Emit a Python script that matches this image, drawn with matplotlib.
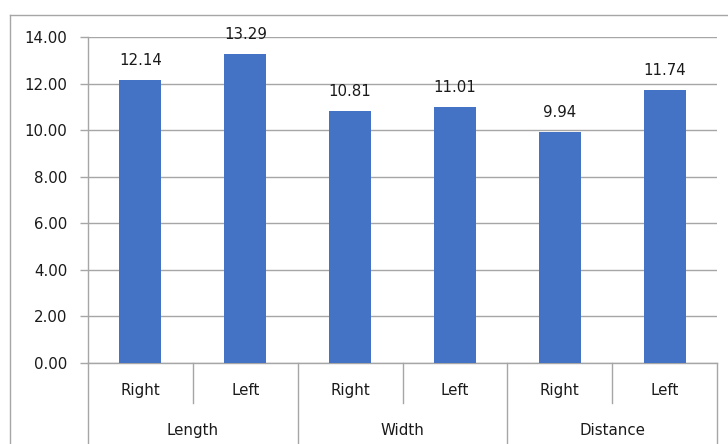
import matplotlib.pyplot as plt
from matplotlib.lines import Line2D
import matplotlib.transforms as mtransforms

# chart data
groups = ['Length', 'Width', 'Distance']
sides = ['Right', 'Left', 'Right', 'Left', 'Right', 'Left']
values = [12.14, 13.29, 10.81, 11.01, 9.94, 11.74]
y_ticks = [0, 2, 4, 6, 8, 10, 12, 14]

W, H = 728, 444
bar_color = '#4472C4'
grid_color = '#a6a6a6'
text_color = '#1a1a1a'
fs = 10.8

fig = plt.figure(figsize=(W / 100, H / 100), dpi=100)
fig.patch.set_facecolor('white')

# plot area in pixels: left 88, right 717, top 37, bottom 363
ax = fig.add_axes([88 / W, (H - 363) / H, (717 - 88) / W, (363 - 37) / H])

x = list(range(len(values)))
ax.bar(x, values, width=0.4, color=bar_color, zorder=3)
ax.set_xlim(-0.5, len(values) - 0.5)
ax.set_ylim(0, 14)

ax.set_yticks(y_ticks)
ax.set_yticklabels(['{:.2f}'.format(v) for v in y_ticks], fontsize=fs, color=text_color)
ax.tick_params(axis='y', length=6, width=1, color=grid_color, pad=9)
ax.set_xticks([])
ax.yaxis.grid(True, color=grid_color, linewidth=1, zorder=0)

for s in ['top', 'right']:
    ax.spines[s].set_visible(False)
for s in ['left', 'bottom']:
    ax.spines[s].set_color(grid_color)
    ax.spines[s].set_linewidth(1)

# value labels
for xi, v in zip(x, values):
    ax.annotate('{:.2f}'.format(v), (xi, v), xytext=(0, 12), textcoords='offset pixels',
                ha='center', va='bottom', fontsize=fs, color=text_color)

# multi-level category axis
trans = mtransforms.blended_transform_factory(ax.transData, ax.transAxes)
ax_h = 363 - 37
inner_bottom = -(403 - 363) / ax_h
outer_bottom = -(450 - 363) / ax_h
for i in range(len(values) + 1):
    xs = i - 0.5
    yb = outer_bottom if i % 2 == 0 else inner_bottom
    ax.add_line(Line2D([xs, xs], [0, yb], transform=trans, color=grid_color,
                       linewidth=1, clip_on=False))

for xi, lab in zip(x, sides):
    ax.text(xi, -(390 - 363) / ax_h, lab, transform=trans, ha='center', va='center',
            fontsize=fs, color=text_color)
for gi, g in enumerate(groups):
    ax.text(gi * 2 + 0.5, -(430 - 363) / ax_h, g, transform=trans, ha='center', va='center',
            fontsize=fs, color=text_color)

# outer chart border (cut off at right and bottom)
fig.add_artist(Line2D([10 / W, 10 / W], [0, 1 - 15 / H], transform=fig.transFigure,
                      color=grid_color, linewidth=1))
fig.add_artist(Line2D([10 / W, 1], [1 - 15 / H, 1 - 15 / H], transform=fig.transFigure,
                      color=grid_color, linewidth=1))

fig.savefig('out.png', dpi=100)
